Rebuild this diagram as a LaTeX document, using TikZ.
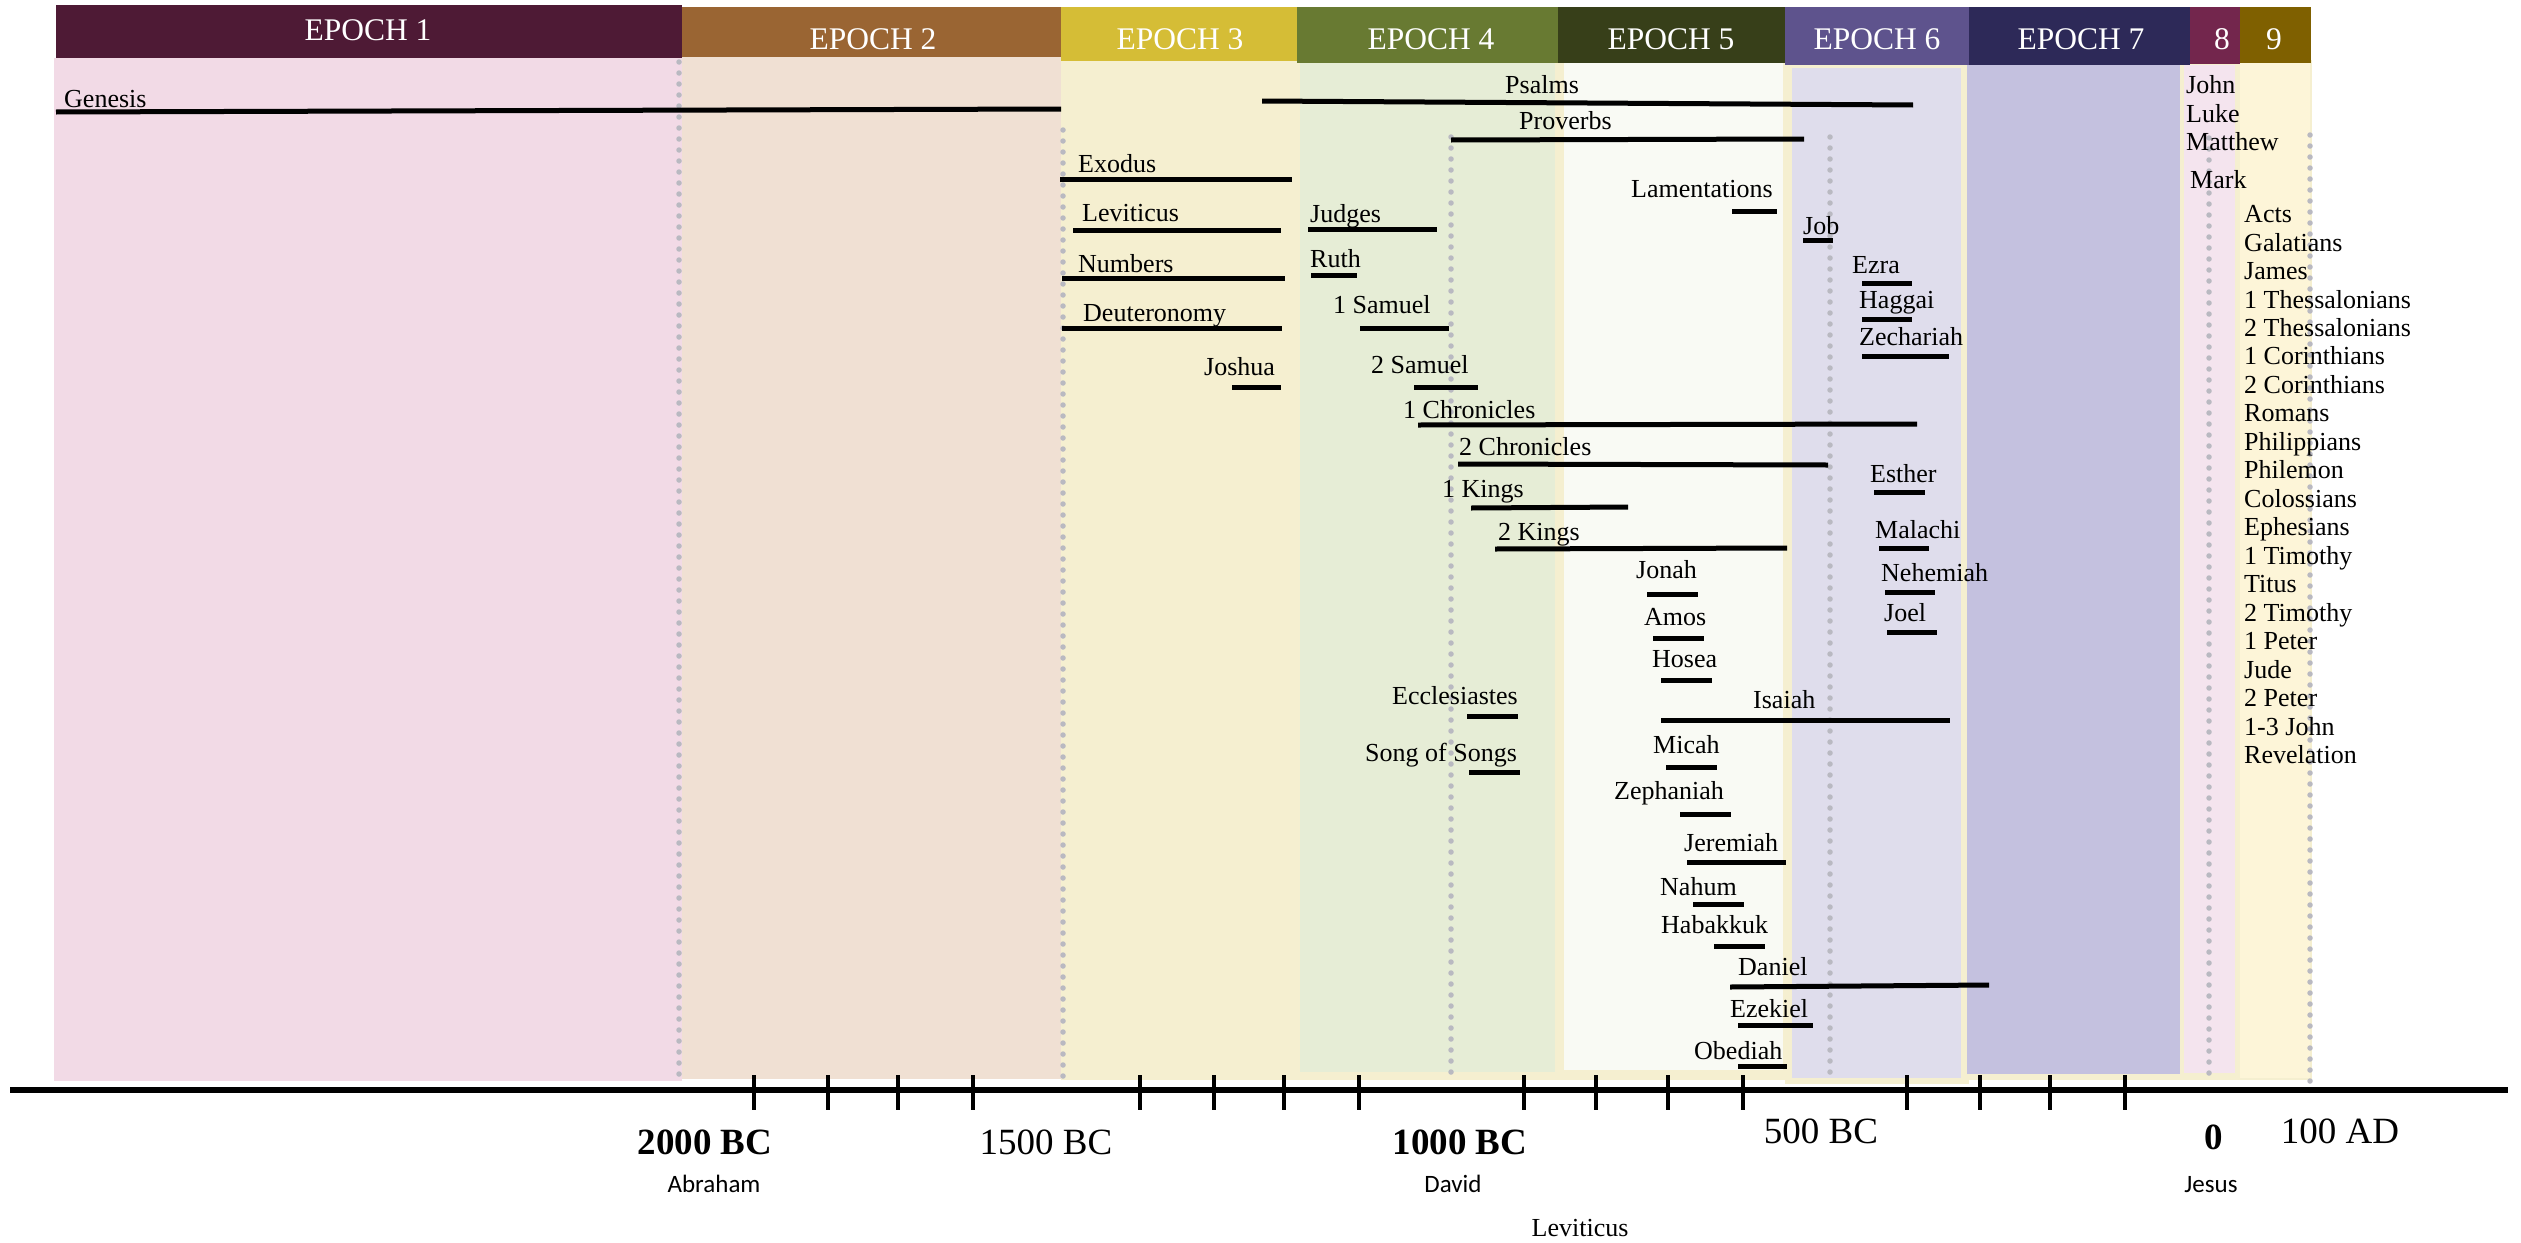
\documentclass[tikz,border=0pt]{standalone}
\usepackage{fontspec}
\setmainfont{Liberation Serif}
\newfontfamily\carl{Carlito}
\definecolor{h1}{HTML}{4E1A35}
\definecolor{h2}{HTML}{9A6533}
\definecolor{h3}{HTML}{D5BD36}
\definecolor{h4}{HTML}{687A32}
\definecolor{h5}{HTML}{373F19}
\definecolor{h6}{HTML}{5E538D}
\definecolor{h7}{HTML}{2D2958}
\definecolor{h8}{HTML}{73264D}
\definecolor{h9}{HTML}{7F6000}
\definecolor{b1}{HTML}{F2DAE6}
\definecolor{b2}{HTML}{F0E0D3}
\definecolor{b3}{HTML}{F5EFD0}
\definecolor{b4}{HTML}{E6EDD6}
\definecolor{b5}{HTML}{F9FAF4}
\definecolor{b6}{HTML}{DFDDEC}
\definecolor{b7}{HTML}{C4C1DF}
\definecolor{b8}{HTML}{F4E4EE}
\definecolor{b9}{HTML}{FDF5D8}
\definecolor{dotc}{HTML}{B9B9C1}
\begin{document}
\begin{tikzpicture}[x=1pt,y=-1pt,
  lbl/.style={anchor=base west,inner sep=0pt,font=\fontsize{26}{30}\selectfont},
  hdrtxt/.style={anchor=base,inner sep=0pt,text=white,font=\fontsize{31.5}{36}\selectfont},
  axlbl/.style={anchor=base,inner sep=0pt,font=\fontsize{37}{42}\selectfont},
  axbold/.style={axlbl,font=\fontsize{37}{42}\selectfont\bfseries},
  pers/.style={anchor=base,inner sep=0pt,font=\carl\fontsize{25}{30}\selectfont},
  bar/.style={line width=5pt},
  dotv/.style={draw=dotc,line width=5.5pt,line cap=round,dash pattern=on 0pt off 11pt},
  tickmark/.style={line width=4pt}]
\useasboundingbox (0,0) rectangle (2521,1242);
\fill[white] (0,0) rectangle (2521,1242);
% backgrounds
\fill[b1] (54,58) rectangle (682,1081);
\fill[b2] (682,57) rectangle (1063,1079);
\fill[b3] (1061,60) rectangle (2312,1080);
\fill[b3] (1785,60) rectangle (1969,1084);
\fill[b4] (1300,63) rectangle (1555,1072);
\fill[b5] (1564,63) rectangle (1783,1070);
\fill[b6] (1792,68) rectangle (1961,1078);
\fill[b7] (1967,65) rectangle (2180,1074);
\fill[b8] (2184,65) rectangle (2235,1073);
\fill[b9] (2240,63) rectangle (2310,1078);
% headers
\fill[h1] (56,5) rectangle (682,58);
\fill[h2] (682,7) rectangle (1061,57);
\fill[h3] (1061,7) rectangle (1297,61);
\fill[h4] (1297,7) rectangle (1558,63);
\fill[h5] (1558,7) rectangle (1785,63);
\fill[h6] (1785,7) rectangle (1969,65);
\fill[h7] (1969,7) rectangle (2190,65);
\fill[h8] (2190,7) rectangle (2240,64);
\fill[h9] (2240,7) rectangle (2311,63);
\node[hdrtxt] (e1) at (368,40) {EPOCH 1};
\node[hdrtxt] (e2) at (873,49) {EPOCH 2};
\node[hdrtxt] (e3) at (1180,49) {EPOCH 3};
\node[hdrtxt] (e4) at (1431,49) {EPOCH 4};
\node[hdrtxt] (e5) at (1671,49) {EPOCH 5};
\node[hdrtxt] (e6) at (1877,49) {EPOCH 6};
\node[hdrtxt] (e7) at (2081,49) {EPOCH 7};
\node[hdrtxt] (e8) at (2222,49) {8};
\node[hdrtxt] (e9) at (2274,49) {9};
% dotted verticals
\draw[dotv] (679,62) -- (679,1081);
\draw[dotv] (1063,130) -- (1063,1083);
\draw[dotv] (1451,137) -- (1451,1083);
\draw[dotv] (1830,137) -- (1830,1081);
\draw[dotv] (2209,138) -- (2209,1080);
\draw[dotv] (2310,135) -- (2310,1088);
% books with bars
\foreach \t/\tx/\ty/\ax/\ay/\bx/\by [count=\i] in {%
Genesis/64/107/56/112/1061/109,%
Psalms/1505/93/1262/101/1913/105,%
Proverbs/1519/129/1451/140/1804/139,%
Exodus/1078/172/1060/179/1292/179,%
Leviticus/1082/221/1073/230/1281/230,%
Judges/1310/222/1308/229/1437/229,%
Numbers/1078/272/1062/278/1285/278,%
Ruth/1310/267/1311/275/1357/275,%
Deuteronomy/1083/321/1062/328/1282/328,%
1 Samuel/1333/313/1360/328/1449/328,%
Joshua/1204/375/1232/387/1281/387,%
2 Samuel/1371/373/1414/387/1478/387,%
1 Chronicles/1403/418/1418/425/1917/424,%
2 Chronicles/1459/455/1458/464/1828/465,%
1 Kings/1442/497/1471/508/1628/507,%
2 Kings/1498/540/1495/549/1787/548,%
Lamentations/1631/197/1732/211/1777/211,%
Jonah/1636/578/1647/594/1698/594,%
Amos/1644/625/1653/638/1704/638,%
Hosea/1652/667/1661/680/1712/680,%
Ecclesiastes/1392/704/1467/716/1518/716,%
Isaiah/1753/708/1661/720/1950/720,%
Song of Songs/1365/761/1469/772/1520/772,%
Micah/1653/753/1666/767/1717/767,%
Zephaniah/1614/799/1680/814/1731/814,%
Jeremiah/1684/851/1687/862/1786/862,%
Nahum/1660/895/1693/904/1744/904,%
Habakkuk/1661/933/1714/946/1765/946,%
Daniel/1738/975/1730/987/1989/985,%
Ezekiel/1730/1017/1738/1025/1813/1025,%
Obediah/1694/1059/1738/1066/1787/1066,%
Job/1803/234/1803/240/1833/240,%
Ezra/1852/273/1862/283/1912/283,%
Haggai/1859/308/1862/319/1912/319,%
Zechariah/1859/345/1862/356/1949/356,%
Esther/1870/482/1874/492/1925/492,%
Malachi/1875/538/1879/548/1929/548,%
Nehemiah/1881/581/1885/592/1935/592,%
Joel/1884/621/1887/632/1937/632}{%
  \node[lbl] (bk\i) at (\tx,\ty) {\t};
  \draw[bar] (\ax,\ay) -- (\bx,\by);
}
% gospels
\node[lbl] (john) at (2186,93) {John};
\node[lbl] (luke) at (2186,122) {Luke};
\node[lbl] (matt) at (2186,150) {Matthew};
\node[lbl] (mark) at (2190,188) {Mark};
% NT list
\foreach \t [count=\i] in {Acts,Galatians,James,1 Thessalonians,2 Thessalonians,1 Corinthians,2 Corinthians,Romans,Philippians,Philemon,Colossians,Ephesians,1 Timothy,Titus,2 Timothy,1 Peter,Jude,2 Peter,1-3 John,Revelation}{%
  \node[lbl] (nt\i) at (2244,{222.6+28.47*(\i-1)}) {\t};
}
% axis
\draw[line width=6pt] (10,1090) -- (2508,1090);
\foreach \x in {754,828,898,973,1140,1214,1284,1359,1524,1596,1668,1743,1907,1980,2050,2125}{%
  \draw[tickmark] (\x,1075) -- (\x,1110);
}
\node[axbold] (y2000) at (705,1154) {2000 BC};
\node[axlbl] (y1500) at (1046,1154) {1500 BC};
\node[axbold] (y1000) at (1460,1154) {1000 BC};
\node[axlbl] (y500) at (1821,1143) {500 BC};
\node[axbold] (y0) at (2214,1149) {0};
\node[axlbl] (y100) at (2340,1143) {100 AD};
\node[pers] (abraham) at (714,1192) {Abraham};
\node[pers] (david) at (1453,1192) {David};
\node[pers] (jesus) at (2211,1192) {Jesus};
\node[anchor=base,inner sep=0pt,font=\fontsize{26}{30}\selectfont] (levb) at (1580,1236) {Leviticus};
\end{tikzpicture}
\end{document}
